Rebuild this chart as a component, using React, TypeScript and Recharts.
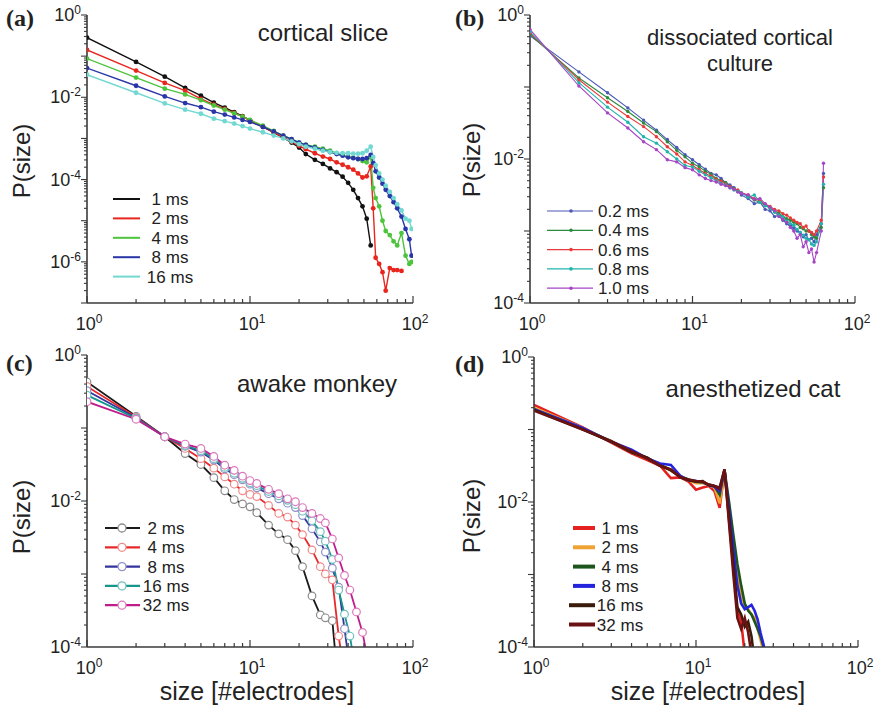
import React from "react";
import { LineChart, Line, XAxis, YAxis } from "recharts";

const W = 885;
const H = 712;
const SANS = "'Liberation Sans', Arial, sans-serif";
const SERIF = "'Liberation Serif', 'Times New Roman', serif";
const AXIS = "#3a3a3a";

// all P(size) values are stored as log10 P

// (a) cortical slice
const sliceSizes = [1, 2, 3, 4, 5, 6, 7, 8, 9, 10, 12, 14, 16, 18, 20, 22, 25, 28, 31, 34, 37, 40, 43, 46, 49, 52, 55, 57, 59, 62, 65, 68, 72, 76, 80, 85, 90, 95, 98];
const slice1ms = [-0.55, -1.14, -1.5, -1.77, -1.96, -2.13, -2.25, -2.36, -2.46, -2.56, -2.72, -2.86, -2.98, -3.1, -3.22, -3.38, -3.52, -3.62, -3.73, -3.82, -3.93, -4.08, -4.25, -4.45, -4.65, -4.95, -5.6, null, null, null, null, null, null, null, null, null, null, null, null];
const slice2ms = [-0.85, -1.35, -1.65, -1.84, -2.04, -2.18, -2.28, -2.38, -2.47, -2.56, -2.71, -2.85, -2.97, -3.08, -3.18, -3.26, -3.36, -3.44, -3.5, -3.58, -3.64, -3.7, -3.76, -3.85, -3.95, -3.92, -3.68, -4.7, -5.9, -6.05, -6.25, -6.7, -6.15, -6.2, -6.2, -6.22, null, null, null];
const slice4ms = [-1.06, -1.52, -1.79, -1.93, -2.07, -2.2, -2.3, -2.39, -2.47, -2.55, -2.69, -2.82, -2.93, -3.02, -3.1, -3.15, -3.2, -3.25, -3.3, -3.36, -3.41, -3.45, -3.47, -3.5, -3.55, -3.58, -3.45, -4.2, -4.45, -4.65, -5.0, -5.25, -5.35, -5.5, -5.6, -5.3, -5.85, -6.05, -6.0];
const slice8ms = [-1.29, -1.72, -1.98, -2.14, -2.24, -2.35, -2.42, -2.49, -2.55, -2.6, -2.72, -2.83, -2.93, -3.02, -3.1, -3.16, -3.22, -3.28, -3.33, -3.38, -3.42, -3.46, -3.48, -3.5, -3.5, -3.48, -3.4, -3.6, -3.8, -3.95, -4.1, -4.25, -4.4, -4.55, -4.7, -4.9, -5.2, -5.45, -5.85];
const slice16ms = [-1.45, -1.89, -2.15, -2.3, -2.4, -2.52, -2.58, -2.64, -2.7, -2.76, -2.85, -2.93, -3.0, -3.07, -3.14, -3.2, -3.25, -3.3, -3.33, -3.35, -3.36, -3.36, -3.37, -3.37, -3.36, -3.3, -3.2, -3.45, -3.65, -3.85, -4.0, -4.15, -4.3, -4.45, -4.6, -4.75, -4.95, -5.0, -5.2];
const sliceNames = ["1 ms", "2 ms", "4 ms", "8 ms", "16 ms"];
const sliceColors = ["#111111", "#e8261e", "#4cc43c", "#2a35a8", "#72d8d2"];

// (b) dissociated cortical culture
const cultureSizes = [1, 2, 3, 4, 5, 6, 7, 8, 9, 10, 11, 12, 13, 14, 15, 16, 17, 18, 19, 20, 22, 24, 26, 28, 30, 32, 34, 36, 38, 40, 42, 44, 46, 48, 50, 52, 54, 56, 58, 62, 64];
const culture02 = [-0.29, -0.79, -1.08, -1.29, -1.46, -1.6, -1.73, -1.84, -1.94, -2.01, -2.08, -2.14, -2.2, -2.22, -2.27, -2.33, -2.36, -2.4, -2.45, -2.5, -2.55, -2.62, -2.6, -2.7, -2.72, -2.8, -2.78, -2.85, -2.9, -2.92, -2.96, -3.0, -3.02, -3.08, -3.05, -3.12, -3.1, -3.15, -3.05, -2.9, -2.2];
const culture04 = [-0.27, -0.875, -1.15, -1.34, -1.5, -1.62, -1.76, -1.88, -1.97, -2.06, -2.11, -2.17, -2.21, -2.27, -2.3, -2.33, -2.38, -2.41, -2.44, -2.47, -2.52, -2.57, -2.6, -2.64, -2.68, -2.72, -2.75, -2.8, -2.83, -2.85, -2.88, -2.9, -2.95, -2.97, -3.0, -3.0, -3.05, -3.08, -3.1, -2.95, -2.4];
const culture06 = [-0.25, -0.9, -1.21, -1.41, -1.55, -1.69, -1.83, -1.93, -2.04, -2.09, -2.15, -2.2, -2.24, -2.28, -2.31, -2.35, -2.38, -2.42, -2.43, -2.47, -2.5, -2.55, -2.58, -2.63, -2.66, -2.7, -2.72, -2.76, -2.78, -2.82, -2.85, -2.88, -2.9, -2.95, -2.93, -3.0, -3.02, -3.05, -3.0, -2.85, -2.25];
const culture08 = [-0.23, -0.94, -1.28, -1.49, -1.69, -1.78, -1.9, -2.0, -2.09, -2.11, -2.17, -2.22, -2.26, -2.3, -2.34, -2.36, -2.4, -2.43, -2.45, -2.47, -2.53, -2.5, -2.6, -2.65, -2.68, -2.74, -2.78, -2.8, -2.86, -2.9, -2.92, -2.98, -3.02, -3.06, -3.1, -3.12, -3.18, -3.2, -3.15, -2.9, -2.35];
const culture10 = [-0.2, -0.986, -1.36, -1.57, -1.76, -1.87, -2.01, -2.04, -2.12, -2.15, -2.22, -2.27, -2.3, -2.32, -2.35, -2.37, -2.4, -2.42, -2.46, -2.48, -2.5, -2.56, -2.55, -2.62, -2.67, -2.72, -2.8, -2.84, -2.88, -2.95, -3.0, -3.1, -3.05, -3.22, -3.15, -3.3, -3.25, -3.43, -3.3, -3.0, -2.06];
const cultureNames = ["0.2 ms", "0.4 ms", "0.6 ms", "0.8 ms", "1.0 ms"];
const cultureColors = ["#4a58b8", "#2a8a3e", "#e83a3a", "#22b4ac", "#a544c4"];

// (c) awake monkey
const monkeySizes = [1, 2, 3, 4, 5, 6, 7, 8, 9, 10, 11, 13, 15, 17, 19, 21, 24, 27, 29, 32, 35, 38, 41, 45, 49, 53];
const monkey2ms = [-0.37, -0.84, -1.12, -1.35, -1.5, -1.68, -1.86, -1.98, -2.04, -2.08, -2.16, -2.33, -2.45, -2.53, -2.68, -2.9, -3.3, -3.56, -3.6, -3.64, -4.6, null, null, null, null, null];
const monkey4ms = [-0.43, -0.85, -1.12, -1.28, -1.42, -1.55, -1.67, -1.77, -1.86, -1.91, -1.94, -2.06, -2.17, -2.22, -2.33, -2.46, -2.67, -2.9, -3.0, -3.08, -3.85, -4.4, null, null, null, null];
const monkey8ms = [-0.49, -0.86, -1.12, -1.25, -1.33, -1.44, -1.56, -1.64, -1.71, -1.77, -1.82, -1.9, -1.97, -2.03, -2.09, -2.2, -2.38, -2.56, -2.7, -2.92, -3.18, -3.75, -4.3, null, null, null];
const monkey16ms = [-0.55, -0.87, -1.12, -1.24, -1.31, -1.42, -1.54, -1.62, -1.69, -1.75, -1.79, -1.87, -1.93, -1.99, -2.05, -2.14, -2.27, -2.42, -2.55, -2.8, -3.22, -3.55, -3.85, -4.4, null, null];
const monkey32ms = [-0.64, -0.88, -1.12, -1.22, -1.28, -1.39, -1.51, -1.58, -1.66, -1.72, -1.76, -1.84, -1.9, -1.97, -2.01, -2.09, -2.17, -2.24, -2.3, -2.52, -2.78, -3.02, -3.22, -3.52, -3.8, -4.2];
const monkeyNames = ["2 ms", "4 ms", "8 ms", "16 ms", "32 ms"];
const monkeyColors = ["#1a1a1a", "#e8282a", "#34349e", "#16968c", "#c01c8c"];
const monkeyRings = ["#8c8c8c", "#f08a8a", "#9090cc", "#72c2ba", "#dc78bc"];

// (d) anesthetized cat
const catSizes = [1, 2, 3, 4, 5, 6, 7, 8, 9, 10, 11, 12, 13, 14, 15, 16, 17, 18, 19, 20, 21, 22, 23, 24, 25, 26, 27];
const cat1ms = [-0.66, -0.97, -1.18, -1.33, -1.42, -1.5, -1.67, -1.66, -1.72, -1.83, -1.8, -1.78, -1.85, -2.08, -1.56, -2.25, -2.9, -3.5, -3.65, -4.1, null, null, null, null, null, null, null];
const cat2ms = [-0.7, -0.98, -1.17, -1.3, -1.4, -1.48, -1.57, -1.64, -1.7, -1.74, -1.74, -1.77, -1.8, -2.02, -1.57, -2.1, -2.6, -3.0, -3.3, -3.42, -3.48, -3.55, -3.6, -3.75, -3.9, -4.05, null];
const cat4ms = [-0.72, -0.99, -1.16, -1.31, -1.39, -1.49, -1.56, -1.65, -1.69, -1.72, -1.73, -1.76, -1.78, -1.9, -1.56, -2.0, -2.45, -2.85, -3.15, -3.4, -3.5, -3.55, -3.65, -3.75, -3.85, -3.98, -4.1];
const cat8ms = [-0.72, -0.98, -1.17, -1.28, -1.4, -1.47, -1.49, -1.64, -1.7, -1.71, -1.72, -1.77, -1.79, -1.85, -1.57, -2.1, -2.65, -3.15, -3.4, -3.48, -3.45, -3.42, -3.5, -3.62, -3.8, -3.95, -4.1];
const cat16ms = [-0.73, -1.0, -1.17, -1.31, -1.39, -1.5, -1.56, -1.66, -1.7, -1.72, -1.71, -1.77, -1.78, -1.8, -1.55, -2.2, -2.85, -3.45, -3.55, -3.72, -3.65, -3.85, -4.2, null, null, null, null];
const cat32ms = [-0.74, -1.0, -1.16, -1.3, -1.4, -1.5, -1.55, -1.66, -1.69, -1.71, -1.72, -1.76, -1.78, -1.82, -1.55, -2.3, -3.0, -3.6, -3.75, -3.6, -3.8, -4.1, null, null, null, null, null];
const catNames = ["1 ms", "2 ms", "4 ms", "8 ms", "16 ms", "32 ms"];
const catColors = ["#e42020", "#f0a232", "#1c561c", "#2424dc", "#3a1c0c", "#6a1212"];

// axis ticks
const xTicks = [1, 2, 3, 4, 5, 6, 7, 8, 9, 10, 20, 30, 40, 50, 60, 70, 80, 90, 100];
const xMajor = [1, 10, 100];
const minorSteps = [2, 3, 4, 5, 6, 7, 8, 9];

type Rect = { l: number; t: number; r: number; b: number };
const rectA: Rect = { l: 87, t: 15, r: 413, b: 303 };
const rectB: Rect = { l: 530, t: 15, r: 855, b: 303 };
const rectC: Rect = { l: 87, t: 355, r: 413, b: 647 };
const rectD: Rect = { l: 534, t: 357, r: 858, b: 647 };

function logTicks(lo: number, hi: number) {
  const out: number[] = [];
  for (let k = lo; k <= hi; k++) {
    out.push(k);
    if (k < hi) minorSteps.forEach((m) => out.push(k + Math.log10(m)));
  }
  return out;
}

function buildRows(sizes: number[], series: (number | null)[][]) {
  return sizes.map((size, i) => {
    const row: Record<string, number | null> = { size };
    series.forEach((s, j) => {
      row[`s${j}`] = s[i];
    });
    return row;
  });
}

function Pow({ x, y, exp, anchor }: { x: number; y: number; exp: number; anchor: string }) {
  return (
    <text x={x} y={y} textAnchor={anchor} fontFamily={SANS} fontSize={18} fill="#222">
      10<tspan dy={-7} fontSize={12}>{exp}</tspan>
    </text>
  );
}

function XTick(props: any) {
  const { x, y, payload } = props;
  const v = payload.value;
  const major = xMajor.includes(v);
  return (
    <g>
      <line x1={x} x2={x} y1={y} y2={y - (major ? 7 : 4)} stroke={AXIS} strokeWidth={1.2} />
      {major && <Pow x={x + 2} y={y + 27} exp={Math.round(Math.log10(v))} anchor="middle" />}
    </g>
  );
}

function YTick(props: any) {
  const { x, y, payload, labelled } = props;
  const v = payload.value;
  const k = Math.round(v);
  const major = Math.abs(v - k) < 1e-6;
  return (
    <g>
      <line x1={x} x2={x - (major ? 6 : 3)} y1={y} y2={y} stroke={AXIS} strokeWidth={1.1} />
      {major && labelled.includes(k) && <Pow x={x - 6} y={y + 6} exp={k} anchor="end" />}
    </g>
  );
}

function Panel({
  rect,
  rows,
  yMin,
  labelled,
  children,
}: {
  rect: Rect;
  rows: Record<string, number | null>[];
  yMin: number;
  labelled: number[];
  children: React.ReactNode;
}) {
  return (
    <div style={{ position: "absolute", left: 0, top: 0 }}>
      <LineChart
        width={W}
        height={H}
        data={rows}
        margin={{ top: rect.t, left: rect.l - 40, right: W - rect.r, bottom: H - rect.b - 30 }}
      >
        <XAxis
          dataKey="size"
          type="number"
          scale="log"
          domain={[1, 100]}
          allowDataOverflow
          ticks={xTicks}
          interval={0}
          height={30}
          tickLine={false}
          tickSize={0}
          tickMargin={0}
          tick={(p: any) => <XTick {...p} />}
          axisLine={{ stroke: AXIS, strokeWidth: 1.6 }}
        />
        <YAxis
          type="number"
          domain={[yMin, 0]}
          allowDataOverflow
          ticks={logTicks(yMin, 0)}
          interval={0}
          width={40}
          tickLine={false}
          tickSize={0}
          tickMargin={0}
          tick={(p: any) => <YTick {...p} labelled={labelled} />}
          axisLine={{ stroke: AXIS, strokeWidth: 1.6 }}
        />
        {children}
      </LineChart>
    </div>
  );
}

const rowsA = buildRows(sliceSizes, [slice1ms, slice2ms, slice4ms, slice8ms, slice16ms]);
const rowsB = buildRows(cultureSizes, [culture02, culture04, culture06, culture08, culture10]);
const rowsC = buildRows(monkeySizes, [monkey2ms, monkey4ms, monkey8ms, monkey16ms, monkey32ms]);
const rowsD = buildRows(catSizes, [cat1ms, cat2ms, cat4ms, cat8ms, cat16ms, cat32ms]);

function Texts() {
  const t = { fontFamily: SANS, fill: "#222" };
  const panelLabel = { fontFamily: SERIF, fontWeight: 700, fontSize: 24, fill: "#222" };
  const yLab = (x: number, y: number) => (
    <text x={x} y={y} transform={`rotate(-90 ${x} ${y})`} textAnchor="middle" dominantBaseline="central" fontSize={24} {...t}>
      P(size)
    </text>
  );
  return (
    <svg width={W} height={H} style={{ position: "absolute", left: 0, top: 0, pointerEvents: "none" }}>
      <text x={6} y={26} {...panelLabel}>(a)</text>
      <text x={455} y={26} {...panelLabel}>(b)</text>
      <text x={6} y={371} {...panelLabel}>(c)</text>
      <text x={455} y={372} {...panelLabel}>(d)</text>

      <text x={323} y={41} textAnchor="middle" fontSize={24} {...t}>cortical slice</text>
      <text x={740} y={45} textAnchor="middle" fontSize={22} {...t}>dissociated cortical</text>
      <text x={740} y={71} textAnchor="middle" fontSize={22} {...t}>culture</text>
      <text x={317} y={392} textAnchor="middle" fontSize={24} {...t}>awake monkey</text>
      <text x={753} y={397} textAnchor="middle" fontSize={24} {...t}>anesthetized cat</text>

      {yLab(21, 161)}
      {yLab(471, 160)}
      {yLab(21, 517)}
      {yLab(471, 516)}

      <text x={257} y={700} textAnchor="middle" fontSize={25} {...t}>size [#electrodes]</text>
      <text x={708} y={700} textAnchor="middle" fontSize={25} {...t}>size [#electrodes]</text>

      {sliceNames.map((n, i) => {
        const y = 199 + i * 19.4;
        return (
          <g key={n}>
            <line x1={113} x2={140} y1={y} y2={y} stroke={sliceColors[i]} strokeWidth={2} />
            <text x={170} y={y + 6} textAnchor="middle" fontSize={17} {...t}>{n}</text>
          </g>
        );
      })}

      {cultureNames.map((n, i) => {
        const y = 211 + i * 19.3;
        return (
          <g key={n}>
            <line x1={547} x2={593} y1={y} y2={y} stroke={cultureColors[i]} strokeWidth={1.2} />
            <circle cx={571} cy={y} r={1.8} fill={cultureColors[i]} />
            <text x={598} y={y + 6} fontSize={17} {...t}>{n}</text>
          </g>
        );
      })}

      {monkeyNames.map((n, i) => {
        const y = 528 + i * 19.3;
        return (
          <g key={n}>
            <line x1={105} x2={140} y1={y} y2={y} stroke={monkeyColors[i]} strokeWidth={2.2} />
            <circle cx={122} cy={y} r={4} fill="#fff" stroke={monkeyRings[i]} strokeWidth={1.3} />
            <text x={166} y={y + 6} textAnchor="middle" fontSize={17} {...t}>{n}</text>
          </g>
        );
      })}

      {catNames.map((n, i) => {
        const y = 528 + i * 19.3;
        return (
          <g key={n}>
            <line x1={i >= 4 ? 569 : 573} x2={595} y1={y} y2={y} stroke={catColors[i]} strokeWidth={4} />
            <text x={620} y={y + 6} textAnchor="middle" fontSize={17} {...t}>{n}</text>
          </g>
        );
      })}
    </svg>
  );
}

export default function App() {
  return (
    <div style={{ position: "absolute", left: 0, top: 0, width: W, height: H, background: "#fff", overflow: "hidden" }}>
      <Panel rect={rectA} rows={rowsA} yMin={-7} labelled={[0, -2, -4, -6]}>
        {sliceColors.map((c, i) => (
          <Line
            key={i}
            dataKey={`s${i}`}
            stroke={c}
            strokeWidth={1.4}
            dot={{ r: 2.4, fill: c, stroke: c, strokeWidth: 0 }}
            isAnimationActive={false}
          />
        ))}
      </Panel>
      <Panel rect={rectB} rows={rowsB} yMin={-4} labelled={[0, -2, -4]}>
        {cultureColors.map((c, i) => (
          <Line
            key={i}
            dataKey={`s${i}`}
            stroke={c}
            strokeWidth={1.1}
            dot={{ r: 1.7, fill: c, stroke: c, strokeWidth: 0 }}
            isAnimationActive={false}
          />
        ))}
      </Panel>
      <Panel rect={rectC} rows={rowsC} yMin={-4} labelled={[0, -2, -4]}>
        {monkeyColors.map((c, i) => (
          <Line
            key={i}
            dataKey={`s${i}`}
            stroke={c}
            strokeWidth={1.8}
            dot={{ r: 3.8, fill: "#fff", stroke: monkeyRings[i], strokeWidth: 1.2 }}
            isAnimationActive={false}
          />
        ))}
      </Panel>
      <Panel rect={rectD} rows={rowsD} yMin={-4} labelled={[0, -2, -4]}>
        {catColors.map((c, i) => (
          <Line key={i} dataKey={`s${i}`} stroke={c} strokeWidth={2.6} dot={false} isAnimationActive={false} />
        ))}
      </Panel>
      <Texts />
    </div>
  );
}
